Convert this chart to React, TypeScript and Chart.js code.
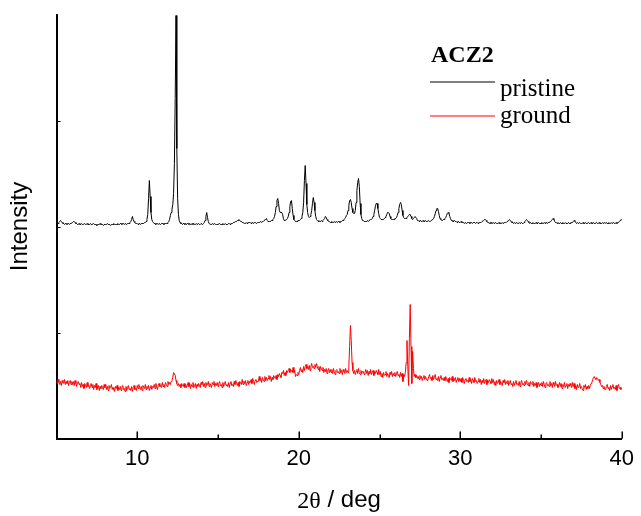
import React, { useEffect, useRef } from "react";
import { Chart, registerables } from "chart.js";

Chart.register(...registerables);

// 2θ sampling grid (degrees)
const twoThetaStart = 5;
const twoThetaStep = 0.05;
const twoThetaMin = 5;
const twoThetaMax = 40;
const xTickStep = 5;

// Intensity (arbitrary units, offset traces), one row per degree (5.00 ... 5.95, 6.00 ...)
const pristineIntensity: number[] = [
  214,215,215,216,217,218,217,216,215,215,214,215,215,214,215,215,214,215,215,215,
  216,217,217,216,215,215,214,214,215,214,214,215,214,214,214,215,214,214,215,214,
  214,214,215,214,214,214,215,214,214,214,213,214,214,214,215,214,214,214,213,214,
  214,214,214,215,214,214,214,213,214,214,214,215,214,214,214,214,215,214,214,215,
  215,214,215,215,214,215,215,214,215,215,215,216,217,219,222,219,217,216,215,215,
  215,214,215,215,214,215,215,215,215,216,216,217,219,224,240,258,242,226,219,217,
  216,215,215,214,215,215,214,215,215,214,215,215,215,214,215,215,215,215,216,217,
  219,223,226,229,234,245,275,340,423,290,240,224,218,216,215,215,214,215,215,214,
  215,214,215,215,214,215,214,214,215,214,215,214,214,215,214,214,215,214,214,215,
  215,214,215,216,218,222,226,221,217,215,215,214,214,215,214,214,215,214,214,214,
  214,214,215,214,214,214,215,214,214,215,214,214,214,215,215,214,215,215,215,216,
  216,216,217,217,218,218,219,218,217,217,216,216,216,215,215,216,215,216,216,216,
  216,215,216,216,215,216,216,216,215,216,216,216,216,217,216,217,217,218,218,219,
  220,218,217,217,217,217,218,218,219,220,222,226,232,238,240,235,228,226,226,226,
  224,220,218,218,218,219,220,222,226,232,237,238,230,223,219,218,217,217,217,218,
  218,218,219,220,222,226,236,258,273,255,234,226,222,221,222,224,228,235,241,236,
  228,222,219,218,217,218,217,217,218,217,218,219,220,222,221,219,218,217,217,216,
  216,217,216,216,217,216,216,217,216,217,217,216,217,217,218,218,219,220,221,223,
  224,228,233,238,239,236,230,226,225,225,228,236,248,256,260,252,235,224,220,218,
  218,217,217,217,217,218,217,218,218,219,219,220,222,224,228,233,235,235,230,225,
  221,220,219,219,219,219,220,221,222,224,226,226,225,222,220,219,219,219,219,220,
  220,221,223,226,230,234,236,234,228,223,221,220,220,220,221,222,223,224,224,222,
  220,219,220,221,222,222,220,218,218,217,218,218,217,217,218,217,217,218,217,217,
  217,218,217,217,218,218,219,220,222,225,228,230,230,227,223,220,219,218,218,219,
  219,220,221,223,225,226,225,222,220,218,218,217,217,218,217,217,216,217,217,216,
  216,217,216,216,216,215,216,216,215,216,216,216,215,216,216,215,216,216,216,215,
  216,216,215,216,216,216,216,217,217,218,219,219,218,217,216,216,215,216,215,216,
  215,216,215,215,216,215,215,215,216,215,215,215,216,215,215,216,216,216,217,217,
  218,219,218,217,216,216,215,216,215,215,216,215,215,216,215,215,216,215,215,216,
  217,218,219,218,217,216,215,216,215,215,216,215,215,215,216,215,215,216,215,215,
  215,216,215,215,216,215,216,216,215,216,216,216,217,218,219,220,219,217,216,216,
  215,216,215,215,216,215,215,216,215,215,216,215,215,215,216,215,215,216,216,216,
  217,218,217,216,215,216,215,215,216,215,215,215,216,215,215,216,215,215,215,216,
  215,215,216,215,215,216,215,215,215,216,215,215,216,215,215,215,216,215,215,216,
  215,216,215,215,216,215,215,216,215,215,216,215,215,216,215,216,216,217,218,219,
  219,
];

const groundIntensity: number[] = [
  58,55,59,56,54,57,53,58,56,55,59,54,57,55,58,53,56,58,54,57,
  54,57,53,58,55,52,56,57,54,55,51,56,52,54,50,55,53,51,56,52,
  53,50,52,55,51,54,49,53,51,55,49,51,53,48,52,50,53,51,49,54,
  51,54,49,52,48,53,50,51,54,49,51,49,47,52,50,53,48,51,49,52,
  48,51,53,49,50,47,52,48,51,53,49,50,48,52,47,51,53,49,50,48,
  53,50,54,51,49,52,48,53,51,50,54,49,52,50,53,48,51,53,49,52,
  51,54,50,55,52,49,53,55,52,53,51,56,52,54,51,56,54,52,57,54,
  56,54,57,58,61,66,65,63,58,55,53,55,52,54,51,55,53,52,55,51,
  54,51,53,56,52,55,50,54,52,56,51,53,55,50,54,52,55,53,51,56,
  54,57,52,55,51,56,53,54,57,52,55,53,51,56,54,57,52,55,53,56,
  52,55,57,53,54,51,56,52,55,57,53,54,52,56,51,55,57,53,54,52,
  57,54,58,55,53,56,52,57,55,54,59,54,57,55,58,53,56,58,54,57,
  56,59,55,60,57,54,58,59,56,57,57,62,58,60,56,61,59,57,62,58,
  61,58,60,63,59,62,57,61,59,63,61,60,63,59,64,62,65,63,61,66,
  65,68,63,66,63,68,66,68,70,66,69,68,66,71,66,68,62,64,63,66,
  64,68,71,67,69,66,72,68,72,74,70,72,69,73,68,72,75,71,72,70,
  74,71,75,72,69,72,67,72,70,68,71,66,69,67,70,65,68,70,66,69,
  66,69,65,70,67,64,68,69,66,67,65,70,66,68,64,69,67,65,70,66,
  68,66,72,92,113,98,76,68,65,68,64,67,69,65,70,66,64,68,65,67,
  67,64,66,69,65,68,63,67,65,69,64,66,68,63,67,65,68,66,64,69,
  64,67,62,65,61,66,63,64,67,62,65,63,61,66,64,67,62,65,63,66,
  62,65,67,63,64,61,66,62,65,57,64,62,66,76,98,72,53,100,134,92,
  55,87,70,62,64,61,63,60,62,59,63,60,62,58,61,63,59,62,60,58,
  59,62,64,60,61,58,63,59,62,64,59,60,58,62,57,61,63,59,60,58,
  61,58,62,59,57,60,56,61,59,58,62,57,60,58,61,56,59,61,57,60,
  57,60,56,61,58,55,59,60,57,58,56,61,57,59,55,60,58,56,61,57,
  58,55,57,60,56,59,54,58,56,60,55,57,59,54,58,56,59,57,55,60,
  56,59,54,57,53,58,55,56,59,54,57,55,53,58,56,59,54,57,55,58,
  53,56,58,54,55,52,57,53,56,58,54,55,53,57,52,56,58,54,55,53,
  57,54,58,55,53,56,52,57,55,54,57,52,55,53,56,51,54,56,52,55,
  53,56,52,57,54,51,55,56,53,54,52,57,53,55,51,56,54,52,57,53,
  54,51,53,56,52,55,50,54,52,56,51,53,55,50,54,52,55,53,51,56,
  52,55,50,53,49,54,51,52,55,50,52,50,48,53,51,54,49,52,50,53,
  50,53,55,56,59,61,62,60,59,61,60,58,59,56,54,52,53,50,52,49,
  49,52,54,50,51,48,53,49,52,54,50,51,49,53,48,52,54,50,51,49,
  51,
];

const intensityMax = 424;
const intensityTickStep = 106;

const seriesLabels = ["pristine", "ground"];
const seriesColors = ["#000000", "#ff0000"];
const legendTitle = "ACZ2";
const yAxisTitle = "Intensity";
const xAxisTitleSymbol = "2θ";
const xAxisTitleUnit = " / deg";

const SANS = "'Liberation Sans', Arial, Helvetica, sans-serif";
const SERIF = "'Liberation Serif', 'Times New Roman', Times, serif";

function toPoints(values: number[]) {
  return values.map((y, i) => ({ x: +(twoThetaStart + i * twoThetaStep).toFixed(2), y }));
}

const decorPlugin = {
  id: "decor",
  afterDraw(chart: any) {
    const { ctx, chartArea, scales } = chart;
    const xs = scales.x;
    const ys = scales.y;
    ctx.save();
    ctx.strokeStyle = "#000";
    // inward x ticks
    ctx.lineWidth = 1.5;
    for (const t of xs.ticks) {
      const v = t.value;
      if (v === twoThetaMin) continue;
      const px = Math.round(xs.getPixelForValue(v)) + 0.25;
      const len = v % 10 === 0 ? 7 : 4;
      ctx.beginPath();
      ctx.moveTo(px, chartArea.bottom);
      ctx.lineTo(px, chartArea.bottom - len);
      ctx.stroke();
    }
    // inward y ticks
    ctx.lineWidth = 1;
    for (const t of ys.ticks) {
      const v = t.value;
      if (v <= 0 || v >= intensityMax) continue;
      const py = Math.round(ys.getPixelForValue(v)) + 0.5;
      ctx.beginPath();
      ctx.moveTo(chartArea.left, py);
      ctx.lineTo(chartArea.left + 4, py);
      ctx.stroke();
    }

    // legend
    ctx.fillStyle = "#000";
    ctx.textAlign = "left";
    ctx.textBaseline = "alphabetic";
    ctx.font = `bold 24px ${SERIF}`;
    ctx.fillText(legendTitle, 431, 62);
    const lineYs = [82, 116];
    const textYs = [96, 123];
    for (let i = 0; i < seriesLabels.length; i++) {
      ctx.strokeStyle = seriesColors[i];
      ctx.lineWidth = 1;
      ctx.beginPath();
      ctx.moveTo(430, lineYs[i]);
      ctx.lineTo(495, lineYs[i]);
      ctx.stroke();
      ctx.fillStyle = "#000";
      ctx.font = `25px ${SERIF}`;
      ctx.fillText(seriesLabels[i], 500, textYs[i]);
    }

    // x axis title: "2θ" (serif) + " / deg" (sans)
    ctx.font = `24px ${SERIF}`;
    const w1 = ctx.measureText(xAxisTitleSymbol).width;
    ctx.font = `24px ${SANS}`;
    const w2 = ctx.measureText(xAxisTitleUnit).width;
    const cx = (chartArea.left + chartArea.right) / 2;
    const sx = cx - (w1 + w2) / 2;
    ctx.font = `24px ${SERIF}`;
    ctx.fillText(xAxisTitleSymbol, sx, 508);
    ctx.font = `24px ${SANS}`;
    ctx.fillText(xAxisTitleUnit, sx + w1, 507);
    ctx.restore();
  },
};

export default function App() {
  const ref = useRef<HTMLCanvasElement>(null);
  useEffect(() => {
    const canvas = ref.current;
    if (!canvas) return;
    const chart = new Chart(canvas, {
      type: "line",
      data: {
        datasets: [
          {
            label: seriesLabels[0],
            data: toPoints(pristineIntensity),
            borderColor: seriesColors[0],
            borderWidth: 1,
            pointRadius: 0,
            tension: 0,
            fill: false,
          },
          {
            label: seriesLabels[1],
            data: toPoints(groundIntensity),
            borderColor: seriesColors[1],
            borderWidth: 1,
            pointRadius: 0,
            tension: 0,
            fill: false,
          },
        ],
      },
      options: {
        responsive: false,
        animation: false,
        devicePixelRatio: 1,
        layout: { padding: { top: 14.5, right: 17.7, left: 0, bottom: 0 } },
        plugins: { legend: { display: false }, tooltip: { enabled: false } },
        scales: {
          x: {
            type: "linear",
            min: twoThetaMin,
            max: twoThetaMax,
            ticks: {
              stepSize: xTickStep,
              autoSkip: false,
              maxRotation: 0,
              padding: 7,
              color: "#000",
              font: { family: SANS, size: 22 },
              callback: (v: any) => (Number(v) % 10 === 0 ? String(v) : ""),
            },
            grid: { display: false, drawTicks: false },
            border: { display: true, color: "#000", width: 2 },
            afterFit: (s: any) => {
              s.height = 516 - 438.5;
            },
          },
          y: {
            type: "linear",
            min: 0,
            max: intensityMax,
            ticks: { display: false, stepSize: intensityTickStep },
            grid: { display: false, drawTicks: false },
            border: { display: true, color: "#000", width: 2 },
            title: {
              display: true,
              text: yAxisTitle,
              color: "#000",
              font: { family: SANS, size: 24 },
              padding: { top: 6, bottom: 0 },
            },
            afterFit: (s: any) => {
              s.width = 56.5;
            },
          },
        },
      },
      plugins: [decorPlugin],
    });
    return () => chart.destroy();
  }, []);
  return (
    <div style={{ position: "absolute", left: 0, top: 0, width: 641, height: 516, background: "#fff" }}>
      <canvas ref={ref} width={641} height={516} style={{ display: "block" }} />
    </div>
  );
}
